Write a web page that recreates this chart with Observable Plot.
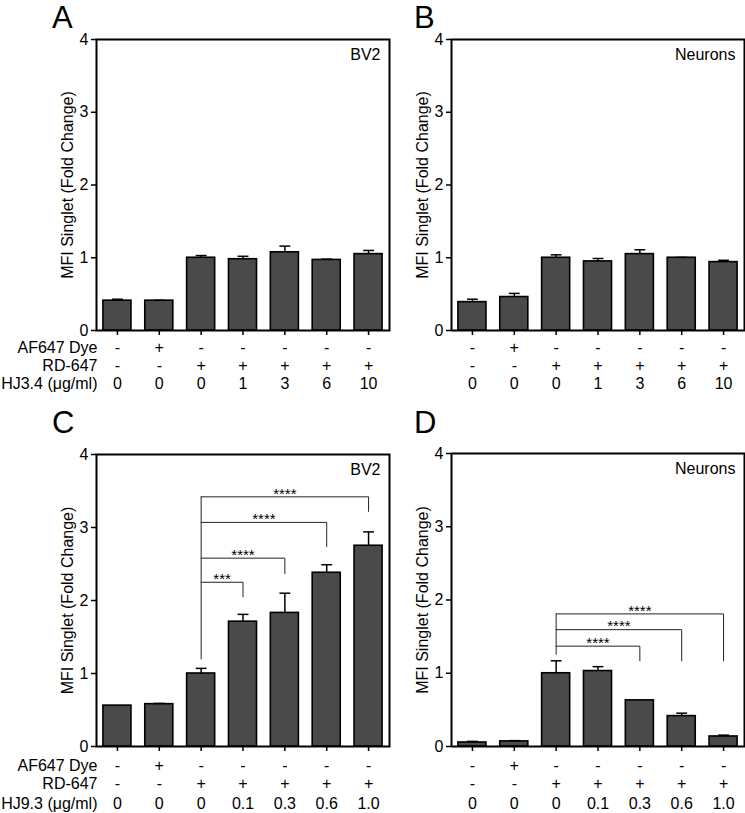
<!DOCTYPE html>
<html>
<head>
<meta charset="utf-8">
<script src="https://cdn.jsdelivr.net/npm/d3@7"></script>
<script src="https://cdn.jsdelivr.net/npm/@observablehq/plot@0.6"></script>
<style>
  body { margin: 0; background: white; }
  #root { position: relative; width: 745px; height: 813px; font-family: "Liberation Sans", Arial, sans-serif; }
  .panel { position: absolute; }
  .letter { position: absolute; font-size: 31px; line-height: normal; color: #000; }
</style>
</head>
<body>
<div id="root"></div>
<script>
// ---- data ----
const groups = [0, 1, 2, 3, 4, 5, 6];
const af647Row = ["-", "+", "-", "-", "-", "-", "-"];
const rd647Row = ["-", "-", "+", "+", "+", "+", "+"];
const hj34Row = ["0", "0", "0", "1", "3", "6", "10"];
const hj93Row = ["0", "0", "0", "0.1", "0.3", "0.6", "1.0"];
const rowNames34 = ["AF647 Dye", "RD-647", "HJ3.4 (μg/ml)"];
const rowNames93 = ["AF647 Dye", "RD-647", "HJ9.3 (μg/ml)"];
const yTicks = [0, 1, 2, 3, 4];

const meanA = [0.41, 0.41, 1.00, 0.98, 1.075, 0.97, 1.05];
const errA  = [0.02, 0.005, 0.03, 0.04, 0.085, 0.01, 0.05];
const meanB = [0.39, 0.46, 1.00, 0.95, 1.05, 1.00, 0.94];
const errB  = [0.04, 0.05, 0.04, 0.04, 0.06, 0.005, 0.025];
const meanC = [0.56, 0.58, 1.00, 1.71, 1.83, 2.38, 2.75];
const errC  = [0.0, 0.01, 0.07, 0.10, 0.27, 0.11, 0.19];
const meanD = [0.055, 0.07, 1.00, 1.03, 0.63, 0.415, 0.137];
const errD  = [0.015, 0.01, 0.17, 0.06, 0.0, 0.04, 0.018];

// brackets: [from group, to group, bracket height, drop-to level, label]
const bracketsC = [
  [2, 3, 2.25, 2.05, "***"],
  [2, 4, 2.58, 2.37, "****"],
  [2, 5, 3.07, 2.74, "****"],
  [2, 6, 3.42, 3.22, "****"]
];
const bracketsCLeftBottom = 1.20;
const bracketsD = [
  [2, 4, 1.37, 1.17, "****"],
  [2, 5, 1.595, 1.17, "****"],
  [2, 6, 1.81, 1.17, "****"]
];
const bracketsDLeftBottom = 1.26;

// ---- drawing ----
const FS = 16;
function panel({mean, err, cell, rows, rowNames, brackets, leftBottom, showRowNames,
                width, height, marginLeft, marginRight, marginTop, marginBottom, rowDy}) {
  const data = groups.map(i => ({i, v: mean[i], e: err[i]}));
  const marks = [];
  // bars
  marks.push(Plot.rect(data, {x1: d => d.i - 0.335, x2: d => d.i + 0.335, y1: 0, y2: d => d.v,
    fill: "#4a4a4a", stroke: "#000", strokeWidth: 1.6}));
  // error bars (upward)
  const eData = data.filter(d => d.e > 0.004);
  marks.push(Plot.link(eData, {x1: d => d.i, x2: d => d.i, y1: d => d.v, y2: d => d.v + d.e, stroke: "#000", strokeWidth: 1.5}));
  marks.push(Plot.link(eData, {x1: d => d.i - 0.13, x2: d => d.i + 0.13, y1: d => d.v + d.e, y2: d => d.v + d.e, stroke: "#000", strokeWidth: 1.5}));
  // brackets
  if (brackets) {
    const pts = [];
    brackets.forEach(([a, b, h, low, lab], k) => {
      pts.push({k, x: a, y: h}, {k, x: b, y: h}, {k, x: b, y: low});
    });
    const top = d3.max(brackets, d => d[2]);
    pts.push({k: "L", x: brackets[0][0], y: top}, {k: "L", x: brackets[0][0], y: leftBottom});
    marks.push(Plot.line(pts, {x: "x", y: "y", z: "k", stroke: "#222", strokeWidth: 1}));
    marks.push(Plot.text(brackets, {x: d => (d[0] + d[1]) / 2, y: d => d[2], text: d => d[4],
      dy: -3, fontSize: 15, fill: "#000"}));
  }
  // frame
  marks.push(Plot.frame({stroke: "#000", strokeWidth: 2}));
  // y axis
  marks.push(Plot.axisY({ticks: yTicks, tickFormat: d => String(d), tickSize: 5, tickPadding: 3, label: null, fontSize: FS, strokeWidth: 1.5}));
  marks.push(Plot.text(["MFI Singlet (Fold Change)"], {frameAnchor: "left", rotate: -90, dx: -29, fontSize: FS, textAnchor: "middle"}));
  // x ticks
  marks.push(Plot.axisX({ticks: groups, tickSize: 5, tickFormat: () => "", label: null, strokeWidth: 1.5}));
  // condition rows
  rows.forEach((row, r) => {
    marks.push(Plot.text(groups, {x: d => d, text: d => row[d], frameAnchor: "bottom", dy: rowDy[r], fontSize: FS, lineAnchor: "middle"}));
    if (showRowNames) {
      marks.push(Plot.text([rowNames[r]], {frameAnchor: "bottom-left", dx: 1, dy: rowDy[r], textAnchor: "end", fontSize: FS, lineAnchor: "middle"}));
    }
  });
  // cell label
  marks.push(Plot.text([cell], {frameAnchor: "top-right", dx: -9, dy: 15, fontSize: FS, textAnchor: "end", lineAnchor: "middle"}));

  return Plot.plot({
    width, height, marginLeft, marginRight, marginTop, marginBottom,
    x: {type: "linear", domain: [-0.5, 6.5], axis: null},
    y: {domain: [0, 4], axis: null},
    style: {fontFamily: "Liberation Sans, Arial, sans-serif", fontSize: FS + "px", background: "transparent", overflow: "visible"},
    marks
  });
}

const root = document.getElementById("root");
function place(el, left, top) {
  const d = document.createElement("div");
  d.className = "panel";
  d.style.left = left + "px";
  d.style.top = top + "px";
  d.appendChild(el);
  root.appendChild(d);
}
function letter(t, left, top) {
  const d = document.createElement("div");
  d.className = "letter";
  d.textContent = t;
  d.style.left = left + "px";
  d.style.top = top + "px";
  root.appendChild(d);
}

place(panel({mean: meanA, err: errA, cell: "BV2", rows: [af647Row, rd647Row, hj34Row], rowNames: rowNames34,
  showRowNames: true, width: 392, height: 400, marginLeft: 96, marginRight: 3, marginTop: 39, marginBottom: 70,
  rowDy: [17, 35, 53]}), 0, 0);
place(panel({mean: meanB, err: errB, cell: "Neurons", rows: [af647Row, rd647Row, hj34Row], rowNames: rowNames34,
  showRowNames: false, width: 353, height: 400, marginLeft: 59, marginRight: 1, marginTop: 39, marginBottom: 70,
  rowDy: [17, 35, 53]}), 392, 0);
place(panel({mean: meanC, err: errC, cell: "BV2", rows: [af647Row, rd647Row, hj93Row], rowNames: rowNames93,
  brackets: bracketsC, leftBottom: bracketsCLeftBottom,
  showRowNames: true, width: 392, height: 413, marginLeft: 96, marginRight: 3, marginTop: 54, marginBottom: 67,
  rowDy: [19, 37.5, 57]}), 0, 400);
place(panel({mean: meanD, err: errD, cell: "Neurons", rows: [af647Row, rd647Row, hj93Row], rowNames: rowNames93,
  brackets: bracketsD, leftBottom: bracketsDLeftBottom,
  showRowNames: false, width: 353, height: 413, marginLeft: 59, marginRight: 1, marginTop: 53, marginBottom: 67,
  rowDy: [19, 37.5, 57]}), 392, 400);

letter("A", 52, 0);
letter("B", 414, 0);
letter("C", 52, 405);
letter("D", 414, 405);
</script>
</body>
</html>
